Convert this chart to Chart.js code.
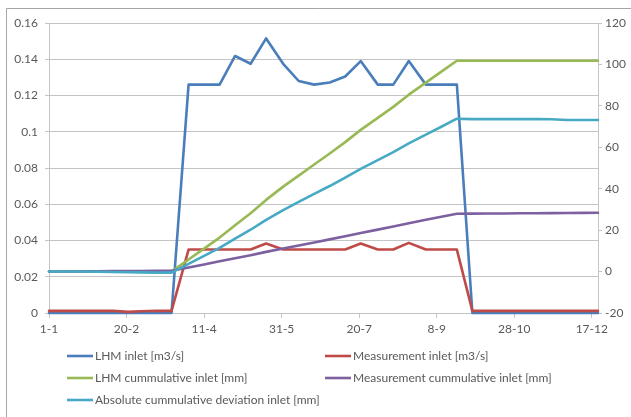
<!DOCTYPE html>
<html>
<head>
<meta charset="utf-8">
<script src="https://cdn.jsdelivr.net/npm/chart.js@4.4.1/dist/chart.umd.min.js"></script>
<style>
  html, body { margin: 0; padding: 0; background: #ffffff; }
  #wrap { position: relative; width: 631px; height: 417px; }
</style>
</head>
<body>
<div id="wrap"><canvas id="c" width="631" height="417"></canvas></div>
<script>
// Dekad dates (day-month), one value per dekad
const dekadDates = ['1-1','11-1','21-1','1-2','11-2','21-2','1-3','11-3','21-3',
  '1-4','11-4','21-4','1-5','11-5','21-5','1-6','11-6','21-6',
  '1-7','11-7','21-7','1-8','11-8','21-8','1-9','11-9','21-9',
  '1-10','11-10','21-10','1-11','11-11','21-11','1-12','11-12','21-12'];

// Flows [m3/s] (left axis)
const lhmInlet = [0,0,0,0,0,0,0,0,0,
  0.126,0.126,0.126,0.1418,0.1375,0.1515,0.1375,0.128,0.126,
  0.1272,0.1305,0.139,0.126,0.126,0.139,0.126,0.126,0.126,
  0,0,0,0,0,0,0,0,0];
const measurementInlet = [0.0012,0.0012,0.0012,0.0012,0.0012,0.0006,0.001,0.0012,0.0012,
  0.035,0.035,0.035,0.035,0.035,0.0383,0.035,0.035,0.035,
  0.035,0.035,0.0383,0.035,0.035,0.0387,0.035,0.035,0.035,
  0.0012,0.0012,0.0012,0.0012,0.0012,0.0012,0.0012,0.0012,0.0012];

// Cumulative volumes [mm] (right axis)
const lhmCumulative = [0,0,0,0,0,0,0,0,0,
  5.8,11.1,16.4,22.4,28.2,34.6,41.0,46.3,51.7,
  57.0,62.5,68.4,74.2,79.5,85.4,91.2,96.5,101.8,
  101.8,101.8,101.8,101.8,101.8,101.8,101.8,101.8,101.8];
const measurementCumulative = [0,0.05,0.1,0.16,0.21,0.24,0.27,0.32,0.37,
  1.99,3.46,4.94,6.41,7.88,9.5,11.12,12.59,14.07,
  15.54,17.01,18.63,20.25,21.72,23.35,24.97,26.45,27.92,
  27.97,28.02,28.07,28.12,28.17,28.22,28.27,28.32,28.37];
const absDeviationCumulative = [0,0,0,-0.1,-0.2,-0.3,-0.4,-0.5,-0.5,
  3.7,7.6,11.4,15.9,20.2,25.0,29.7,33.6,37.5,
  41.3,45.4,49.6,53.8,57.7,61.9,66.1,69.9,73.8,
  73.6,73.6,73.6,73.6,73.6,73.5,73.2,73.2,73.2];

// Axis ticks
const xTickLabels = ['1-1','20-2','11-4','31-5','20-7','8-9','28-10','17-12'];
const xTickDays = [0,50,100,150,200,250,300,350];
const leftTickLabels = ['0','0.02','0.04','0.06','0.08','0.1','0.12','0.14','0.16'];
const rightTickLabels = ['-20','0','20','40','60','80','100','120'];

const seriesNames = ['LHM inlet [m3/s]','Measurement inlet [m3/s]','LHM cummulative inlet [mm]',
  'Measurement cummulative inlet [mm]','Absolute cummulative deviation inlet [mm]'];
const seriesColors = ['#4A7EBB','#BE4B48','#98B954','#7D60A0','#46AAC5'];

// day of year (0 = 1 January, non-leap year)
const monthStart = [0,31,59,90,120,151,181,212,243,273,304,334];
function dayOfYear(s) {
  const [d, m] = s.split('-').map(Number);
  return monthStart[m - 1] + d - 1;
}
const days = dekadDates.map(dayOfYear);
const toPoints = arr => arr.map((v, i) => ({ x: days[i], y: v }));

const FONT = 'Lato, "Open Sans", sans-serif';
const TEXT = '#595959';
const GRID = '#C4C4C4';

function lineSet(i, data, axis) {
  return {
    label: seriesNames[i],
    data: toPoints(data),
    yAxisID: axis,
    borderColor: seriesColors[i],
    backgroundColor: seriesColors[i],
    borderWidth: 2.6,
    pointRadius: 0,
    tension: 0,
    fill: false,
    clip: false,
    borderJoinStyle: 'round',
    borderCapStyle: 'round',
    order: 5 - i
  };
}

// two-column legend below the plot, plus the chart frame
const extras = {
  id: 'extras',
  beforeDraw(chart) {
    const ctx = chart.ctx;
    ctx.save();
    ctx.fillStyle = '#ffffff';
    ctx.fillRect(0, 0, chart.width, chart.height);
    ctx.strokeStyle = '#A6A6A6';
    ctx.lineWidth = 1;
    ctx.beginPath();
    ctx.moveTo(6.5, chart.height);
    ctx.lineTo(6.5, 8.5);
    ctx.lineTo(chart.width, 8.5);
    ctx.stroke();
    ctx.restore();
  },
  afterDraw(chart) {
    const ctx = chart.ctx;
    const colX = [67, 325];
    const rowY = [356, 378, 400];
    ctx.save();
    ctx.font = '12px ' + FONT;
    ctx.textBaseline = 'middle';
    ctx.textAlign = 'left';
    chart.data.datasets.forEach((ds, i) => {
      const x = colX[i % 2];
      const y = rowY[Math.floor(i / 2)];
      ctx.strokeStyle = ds.borderColor;
      ctx.lineWidth = 2.6;
      ctx.beginPath();
      ctx.moveTo(x, y);
      ctx.lineTo(x + 26, y);
      ctx.stroke();
      ctx.fillStyle = TEXT;
      ctx.fillText(ds.label, x + 28, y + 0.5);
    });
    ctx.restore();
  }
};

new Chart(document.getElementById('c'), {
  type: 'line',
  data: {
    datasets: [
      lineSet(0, lhmInlet, 'yL'),
      lineSet(1, measurementInlet, 'yL'),
      lineSet(2, lhmCumulative, 'yR'),
      lineSet(3, measurementCumulative, 'yR'),
      lineSet(4, absDeviationCumulative, 'yR')
    ]
  },
  options: {
    responsive: false,
    animation: false,
    devicePixelRatio: 1,
    layout: { padding: { top: 23, left: 0, right: 0, bottom: 74 } },
    plugins: { legend: { display: false }, tooltip: { enabled: false } },
    scales: {
      x: {
        type: 'linear',
        min: 0,
        max: 354,
        afterBuildTicks: s => { s.ticks = xTickDays.map(v => ({ value: v })); },
        afterFit: s => { s.height = 30; },
        ticks: {
          autoSkip: false,
          maxRotation: 0,
          padding: 4,
          color: TEXT,
          font: { family: FONT, size: 12 },
          callback: (v, i) => xTickLabels[i]
        },
        grid: { drawOnChartArea: false, drawTicks: true, tickLength: 5, color: GRID },
        border: { color: GRID, width: 1 }
      },
      yL: {
        position: 'left',
        min: 0,
        max: 0.16,
        afterBuildTicks: s => { s.ticks = leftTickLabels.map(t => ({ value: Number(t) })); },
        afterFit: s => { s.width = 49; },
        ticks: {
          padding: 7,
          color: TEXT,
          font: { family: FONT, size: 12 },
          callback: (v, i) => leftTickLabels[i]
        },
        grid: { color: GRID, tickLength: 4, drawTicks: true },
        border: { color: GRID, width: 1 }
      },
      yR: {
        position: 'right',
        min: -20,
        max: 120,
        afterBuildTicks: s => { s.ticks = rightTickLabels.map(t => ({ value: Number(t) })); },
        afterFit: s => { s.width = 33; },
        ticks: {
          padding: 3,
          color: TEXT,
          font: { family: FONT, size: 12 },
          callback: (v, i) => rightTickLabels[i]
        },
        grid: { drawOnChartArea: false, tickLength: 4, drawTicks: true, color: GRID },
        border: { color: GRID, width: 1 }
      }
    }
  },
  plugins: [extras]
});
</script>
</body>
</html>
